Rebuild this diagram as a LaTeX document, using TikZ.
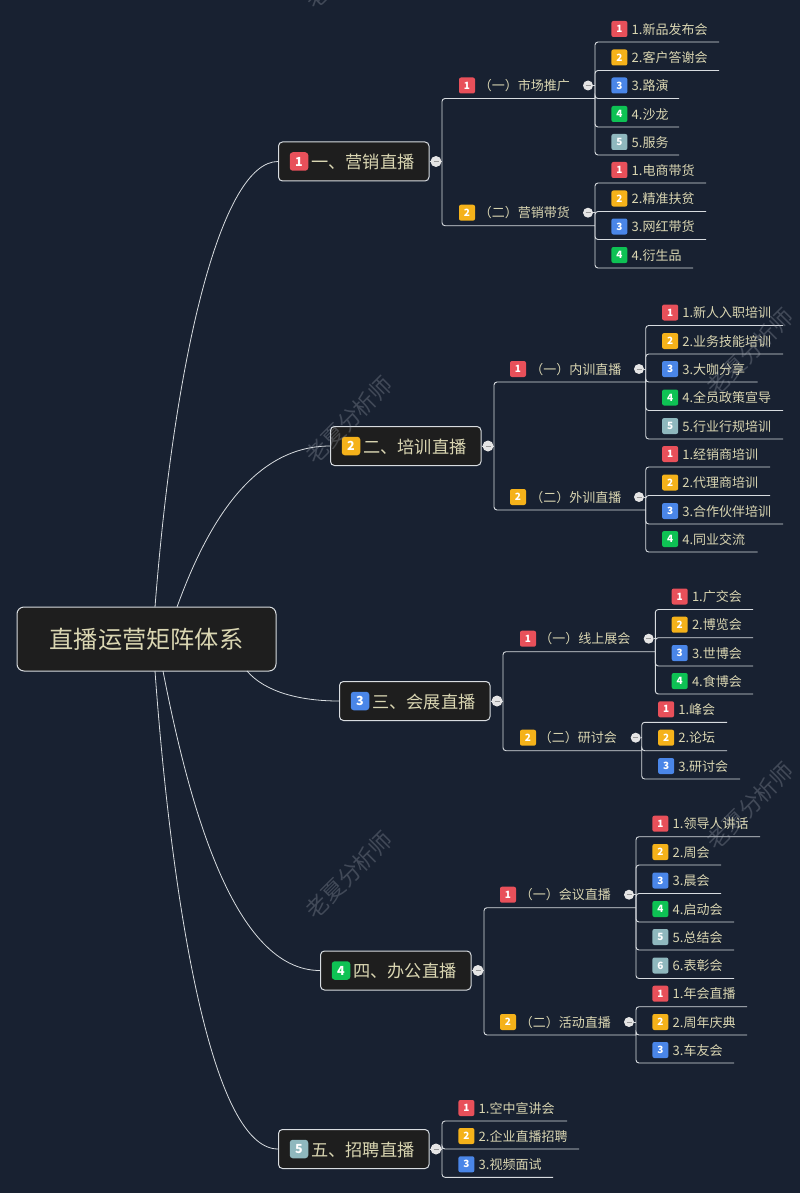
\documentclass[tikz,border=0pt]{standalone}
\usepackage{fontspec}
\setmainfont{Noto Sans CJK SC}
\definecolor{bgc}{HTML}{182131}
\definecolor{boxc}{HTML}{1E1E1E}
\definecolor{linec}{HTML}{D8DCE0}
\definecolor{txtc}{HTML}{DAD6B2}
\definecolor{tag1}{HTML}{E8505A}
\definecolor{tag2}{HTML}{F5B21A}
\definecolor{tag3}{HTML}{4A86E8}
\definecolor{tag4}{HTML}{0EC254}
\definecolor{tag5}{HTML}{8FB8BE}
\definecolor{tag6}{HTML}{8FB8BE}
\definecolor{wmc}{HTML}{AEB4BE}
\tikzset{
  conn/.style={draw=linec,line width=0.9pt,rounded corners=3pt},
  curveconn/.style={draw=linec,line width=0.8pt},
  rootbox/.style={draw=linec,fill=boxc,line width=1pt,rounded corners=7pt,minimum width=259pt,minimum height=64pt,inner sep=0pt,text=txtc,font=\fontsize{24.2}{26}\selectfont},
  branchbox/.style={draw=linec,fill=boxc,line width=1pt,rounded corners=4pt,minimum width=150.5pt,minimum height=39pt,inner sep=0pt},
  branchtext/.style={inner sep=0pt,text=txtc,anchor=base west,font=\fontsize{17.2}{19}\selectfont},
  subtext/.style={inner sep=0pt,text=txtc,anchor=base east,font=\fontsize{13}{15}\selectfont},
  leaftext/.style={inner sep=0pt,text=txtc,anchor=base west,font=\fontsize{13}{15}\selectfont},
  tagbox/.style={rounded corners=2pt,minimum size=16pt,inner sep=0pt,text=white,font=\fontsize{10}{11}\selectfont\bfseries},
  bigtag/.style={rounded corners=3pt,minimum size=18.5pt,inner sep=0pt,text=white,font=\fontsize{12.5}{13}\selectfont\bfseries},
  collapse/.style={circle,fill=white!90!black,minimum size=#1,inner sep=0pt,path picture={\draw[gray!80,line width=0.6pt] (-2.5,0) -- (2.5,0);}},
  wmark/.style={text=wmc,opacity=0.28,rotate=45,inner sep=0pt,font=\fontsize{22.5}{24}\selectfont},
}
% id, x-left, y-centre, number, text
\newcommand{\branchnode}[5]{%
  \node[branchbox,anchor=west] (#1) at (#2,#3) {};
  \node[bigtag,fill=tag#4] (#1-tag) at (#2+21,#3) {#4};
  \node[branchtext] (#1-txt) at (#2+33,#3+7) {#5};
  \coordinate (#1-j) at (#2+164,#3);
  \draw[conn] (#1.east) -- (#1-j);
  \node[collapse=11pt] (#1-c) at (#2+158,#3) {};
}
% id, parent junction, line y, junction x, number, text, tag x, circle x, text end
\newcommand{\subnode}[9]{%
  \coordinate (#1-j) at (#4,#3);
  \draw[conn] (#2) |- (#1-j);
  \node[tagbox,fill=tag#5] (#1-tag) at (#7,#3-13) {#5};
  \node[subtext] (#1-txt) at (#9,#3-8) {#6};
  \node[collapse=10pt] (#1-c) at (#8,#3-13) {};
  \draw[conn] (#1-c.east) -- (#1-c.east -| #1-j);
}
% id, parent junction, junction x, line y, number, text, line end
\newcommand{\leafnode}[7]{%
  \coordinate (#1-e) at (#7,#4);
  \draw[conn] (#2) |- (#1-e);
  \node[tagbox,fill=tag#5] (#1-tag) at (#3+24.4,#4-13) {#5};
  \node[leaftext] (#1) at (#3+36.5,#4-7.9) {#5.#6};
}
\begin{document}
\begin{tikzpicture}[x=1pt,y=-1pt]
\useasboundingbox (0,0) rectangle (800,1193);
\clip (0,0) rectangle (800,1193);
\fill[bgc] (0,0) rectangle (800,1193);

% root
\node[rootbox] (root) at (146.5,639) {直播运营矩阵体系};
\coordinate (r1) at (155,607);
\coordinate (r2) at (177,607);
\coordinate (r3) at (247,671);
\coordinate (r4) at (163,671);
\coordinate (r5) at (155,671);

% branches
\branchnode{b1}{278}{161.5}{1}{一、营销直播}
\branchnode{b2}{330}{446}{2}{二、培训直播}
\branchnode{b3}{339}{701}{3}{三、会展直播}
\branchnode{b4}{320}{970.5}{4}{四、办公直播}
\branchnode{b5}{278}{1149}{5}{五、招聘直播}

% curved connectors
\draw[curveconn] (r1) .. controls (175,350) and (222,161.5) .. (b1.west);
\draw[curveconn] (r2) .. controls (205,530) and (250,446) .. (b2.west);
\draw[curveconn] (r3) .. controls (265,692) and (300,701) .. (b3.west);
\draw[curveconn] (r4) .. controls (190,810) and (235,970.5) .. (b4.west);
\draw[curveconn] (r5) .. controls (170,880) and (208,1149) .. (b5.west);

% branch 1
\subnode{s11}{b1-j}{98.5}{595}{1}{（一）市场推广}{467}{588}{570}
\subnode{s12}{b1-j}{225.7}{595}{2}{（二）营销带货}{467}{588}{570}
\leafnode{l111}{s11-j}{595}{42}{1}{新品发布会}{719}
\leafnode{l112}{s11-j}{595}{70.5}{2}{客户答谢会}{719}
\leafnode{l113}{s11-j}{595}{98.5}{3}{路演}{679}
\leafnode{l114}{s11-j}{595}{127}{4}{沙龙}{679}
\leafnode{l115}{s11-j}{595}{155}{5}{服务}{679}
\leafnode{l121}{s12-j}{595}{183}{1}{电商带货}{706}
\leafnode{l122}{s12-j}{595}{211.5}{2}{精准扶贫}{706}
\leafnode{l123}{s12-j}{595}{239.5}{3}{网红带货}{706}
\leafnode{l124}{s12-j}{595}{268}{4}{衍生品}{693}

% branch 2
\subnode{s21}{b2-j}{382}{645.7}{1}{（一）内训直播}{518}{639}{621.5}
\subnode{s22}{b2-j}{510}{645.7}{2}{（二）外训直播}{518}{639}{621.5}
\leafnode{l211}{s21-j}{645.7}{325.5}{1}{新人入职培训}{783}
\leafnode{l212}{s21-j}{645.7}{354}{2}{业务技能培训}{783}
\leafnode{l213}{s21-j}{645.7}{382}{3}{大咖分享}{757.7}
\leafnode{l214}{s21-j}{645.7}{410.5}{4}{全员政策宣导}{783}
\leafnode{l215}{s21-j}{645.7}{439}{5}{行业行规培训}{783}
\leafnode{l221}{s22-j}{645.7}{467}{1}{经销商培训}{770}
\leafnode{l222}{s22-j}{645.7}{495.5}{2}{代理商培训}{770}
\leafnode{l223}{s22-j}{645.7}{524}{3}{合作伙伴培训}{783}
\leafnode{l224}{s22-j}{645.7}{552}{4}{同业交流}{757.7}

% branch 3
\subnode{s31}{b3-j}{651.7}{655.3}{1}{（一）线上展会}{528}{648.7}{630.5}
\subnode{s32}{b3-j}{750.7}{641.7}{2}{（二）研讨会}{528}{635.7}{617}
\leafnode{l311}{s31-j}{655.3}{609.5}{1}{广交会}{753}
\leafnode{l312}{s31-j}{655.3}{637.7}{2}{博览会}{753}
\leafnode{l313}{s31-j}{655.3}{666}{3}{世博会}{753}
\leafnode{l314}{s31-j}{655.3}{694}{4}{食博会}{753}
\leafnode{l321}{s32-j}{641.7}{722.3}{1}{峰会}{727}
\leafnode{l322}{s32-j}{641.7}{750.7}{2}{论坛}{727}
\leafnode{l323}{s32-j}{641.7}{779}{3}{研讨会}{740}

% branch 4
\subnode{s41}{b4-j}{907.7}{636}{1}{（一）会议直播}{508}{629}{611}
\subnode{s42}{b4-j}{1035}{636}{2}{（二）活动直播}{508}{629}{611}
\leafnode{l411}{s41-j}{636}{836.7}{1}{领导人讲话}{760}
\leafnode{l412}{s41-j}{636}{865}{2}{周会}{721}
\leafnode{l413}{s41-j}{636}{893.5}{3}{晨会}{721}
\leafnode{l414}{s41-j}{636}{922}{4}{启动会}{734}
\leafnode{l415}{s41-j}{636}{950}{5}{总结会}{734}
\leafnode{l416}{s41-j}{636}{978.5}{6}{表彰会}{734}
\leafnode{l421}{s42-j}{636}{1006.7}{1}{年会直播}{747}
\leafnode{l422}{s42-j}{636}{1035}{2}{周年庆典}{747}
\leafnode{l423}{s42-j}{636}{1063}{3}{车友会}{734}

% branch 5
\leafnode{l51}{b5-j}{442}{1121}{1}{空中宣讲会}{567}
\leafnode{l52}{b5-j}{442}{1149}{2}{企业直播招聘}{579}
\leafnode{l53}{b5-j}{442}{1177.3}{3}{视频面试}{553}

% watermarks
\node[wmark] (w1) at (349,-35) {老夏分析师};
\node[wmark] (w2) at (349,420) {老夏分析师};
\node[wmark] (w3) at (349,875) {老夏分析师};
\node[wmark] (w4) at (750,352) {老夏分析师};
\node[wmark] (w5) at (750,806) {老夏分析师};
\end{tikzpicture}
\end{document}
